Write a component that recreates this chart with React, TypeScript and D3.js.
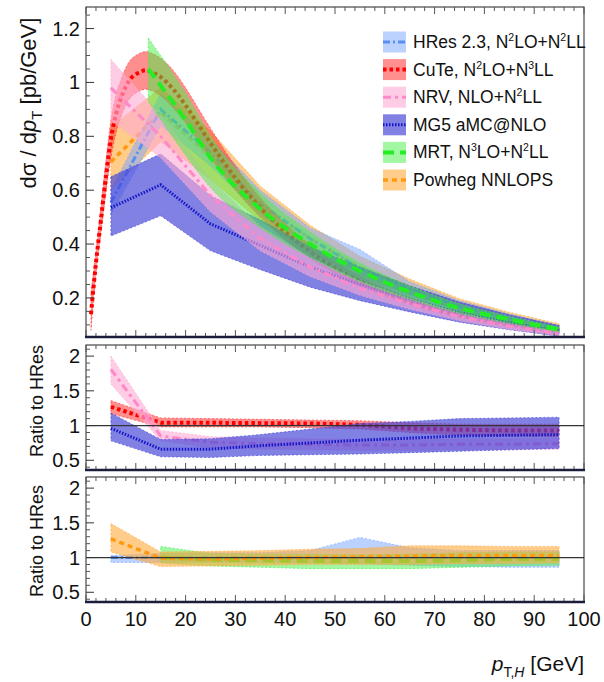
import React from 'react';
import * as d3 from 'd3';

// ---------- data ----------
const binPt = [5, 15, 25, 35, 45, 55, 65, 75, 85, 95];

const hresMid = [0.555, 0.9, 0.74, 0.55, 0.42, 0.31, 0.235, 0.17, 0.125, 0.088];
const hresLo = [0.51, 0.84, 0.69, 0.51, 0.39, 0.29, 0.215, 0.155, 0.112, 0.079];
const hresHi = [0.6, 0.96, 0.79, 0.6, 0.46, 0.38, 0.26, 0.19, 0.14, 0.098];

const cutePt = [1, 2, 3, 4, 5, 6, 7, 8, 9, 10, 11, 12, 13, 15, 17.5, 20, 22.5, 25, 30, 35, 40, 45, 50, 55, 60, 65, 70, 75, 80, 85, 90, 95];
const cuteMid = [0.14, 0.33, 0.49, 0.65, 0.79, 0.88, 0.94, 0.985, 1.015, 1.03, 1.04, 1.045, 1.04, 1.02, 0.975, 0.915, 0.845, 0.775, 0.645, 0.535, 0.445, 0.372, 0.312, 0.262, 0.222, 0.188, 0.16, 0.137, 0.118, 0.102, 0.088, 0.076];
const cuteLo = [0.08, 0.29, 0.44, 0.59, 0.72, 0.81, 0.87, 0.915, 0.945, 0.96, 0.97, 0.975, 0.97, 0.95, 0.905, 0.85, 0.785, 0.72, 0.6, 0.5, 0.415, 0.346, 0.29, 0.244, 0.206, 0.175, 0.149, 0.127, 0.11, 0.095, 0.082, 0.071];
const cuteHi = [0.22, 0.37, 0.54, 0.71, 0.86, 0.95, 1.01, 1.055, 1.085, 1.1, 1.11, 1.115, 1.11, 1.09, 1.045, 0.98, 0.905, 0.83, 0.69, 0.572, 0.476, 0.398, 0.334, 0.28, 0.238, 0.201, 0.171, 0.147, 0.126, 0.109, 0.094, 0.081];

const nrvMid = [0.98, 0.8, 0.58, 0.42, 0.315, 0.235, 0.178, 0.13, 0.095, 0.068];
const nrvLo = [0.86, 0.72, 0.52, 0.375, 0.28, 0.21, 0.158, 0.115, 0.084, 0.06];
const nrvHi = [1.085, 0.88, 0.64, 0.465, 0.35, 0.262, 0.198, 0.145, 0.106, 0.076];

const mg5Mid = [0.535, 0.62, 0.475, 0.395, 0.315, 0.25, 0.195, 0.145, 0.108, 0.077];
const mg5Lo = [0.43, 0.505, 0.375, 0.305, 0.24, 0.19, 0.148, 0.11, 0.082, 0.058];
const mg5Hi = [0.65, 0.735, 0.58, 0.49, 0.39, 0.315, 0.245, 0.185, 0.138, 0.098];

const mrtPt = [12.5, 20, 25, 35, 45, 55, 65, 75, 85, 95];
const mrtMid = [1.05, 0.86, 0.72, 0.53, 0.4, 0.3, 0.222, 0.162, 0.12, 0.083];
const mrtLo = [0.93, 0.73, 0.61, 0.46, 0.35, 0.26, 0.195, 0.143, 0.106, 0.074];
const mrtHi = [1.165, 0.96, 0.8, 0.59, 0.445, 0.33, 0.245, 0.178, 0.132, 0.092];

const powMid = [0.705, 0.89, 0.725, 0.545, 0.42, 0.313, 0.24, 0.175, 0.13, 0.092];
const powLo = [0.6, 0.78, 0.64, 0.485, 0.37, 0.278, 0.212, 0.153, 0.113, 0.08];
const powHi = [0.835, 0.98, 0.82, 0.615, 0.47, 0.355, 0.27, 0.197, 0.147, 0.104];

// ratios to HRes (middle panel)
const rCuteMid = [1.27, 1.04, 1.04, 1.035, 1.03, 1.01, 0.96, 0.94, 0.93, 0.93];
const rCuteLo = [1.17, 0.98, 0.98, 0.98, 0.97, 0.95, 0.9, 0.86, 0.85, 0.84];
const rCuteHi = [1.36, 1.11, 1.1, 1.09, 1.08, 1.07, 1.04, 1.02, 1.02, 1.02];

const rNrvMid = [1.81, 0.85, 0.76, 0.74, 0.73, 0.72, 0.72, 0.73, 0.73, 0.74];
const rNrvLo = [1.6, 0.78, 0.68, 0.66, 0.65, 0.64, 0.64, 0.65, 0.65, 0.66];
const rNrvHi = [2.0, 0.93, 0.84, 0.82, 0.81, 0.8, 0.8, 0.81, 0.81, 0.82];

const rMg5Mid = [0.96, 0.66, 0.66, 0.71, 0.75, 0.79, 0.82, 0.85, 0.86, 0.87];
const rMg5Lo = [0.78, 0.55, 0.54, 0.57, 0.58, 0.59, 0.61, 0.63, 0.65, 0.67];
const rMg5Hi = [1.18, 0.8, 0.81, 0.87, 0.95, 1.03, 1.06, 1.1, 1.11, 1.12];

// ratios to HRes (bottom panel)
const rHresMid = [1, 1, 1, 1, 1, 1, 1, 1, 1, 1];
const rHresLo = [0.93, 0.93, 0.93, 0.93, 0.92, 0.91, 0.89, 0.87, 0.86, 0.86];
const rHresHi = [1.03, 1.06, 1.07, 1.07, 1.1, 1.29, 1.14, 1.1, 1.1, 1.1];

const rMrtPt = [15, 25, 35, 45, 55, 65, 75, 85, 95];
const rMrtMid = [1.0, 0.97, 0.96, 0.95, 0.95, 0.95, 0.96, 0.98, 0.98];
const rMrtLo = [0.92, 0.88, 0.86, 0.84, 0.84, 0.84, 0.86, 0.88, 0.89];
const rMrtHi = [1.16, 1.06, 1.05, 1.05, 1.04, 1.05, 1.07, 1.08, 1.08];

const rPowMid = [1.27, 0.99, 0.98, 0.99, 1.0, 1.01, 1.02, 1.03, 1.03, 1.03];
const rPowLo = [1.08, 0.87, 0.88, 0.89, 0.9, 0.9, 0.9, 0.91, 0.91, 0.92];
const rPowHi = [1.49, 1.08, 1.09, 1.1, 1.12, 1.13, 1.17, 1.17, 1.16, 1.16];

const xTicks = [0, 10, 20, 30, 40, 50, 60, 70, 80, 90, 100];
const yMainTicks = [0.2, 0.4, 0.6, 0.8, 1, 1.2];
const yRatioTicks = [0.5, 1, 1.5, 2];

// ---------- styles ----------
const FONT = '"Liberation Sans", Arial, Helvetica, sans-serif';
type Sty = { fill: string; fo: number; stroke: string; sw: number; dash: string };
const S: Record<string, Sty> = {
  hres: { fill: 'rgb(120,165,255)', fo: 0.5, stroke: '#5b8ef5', sw: 3, dash: '7 3 2 3' },
  cute: { fill: 'rgb(255,60,60)', fo: 0.58, stroke: '#ff0000', sw: 4, dash: '3.5 3' },
  nrv: { fill: 'rgb(255,170,212)', fo: 0.6, stroke: '#ff88c8', sw: 3, dash: '8 4 3 4' },
  mg5: { fill: 'rgb(70,70,215)', fo: 0.68, stroke: '#1515c8', sw: 3, dash: '1.5 1.5' },
  mrt: { fill: 'rgb(70,240,70)', fo: 0.5, stroke: '#22ee22', sw: 4, dash: '11 6' },
  pow: { fill: 'rgb(255,170,60)', fo: 0.6, stroke: '#ff9a10', sw: 3.5, dash: '5 4' },
};

// ---------- layout ----------
const W = 604, H = 682;
const L = 86, R = 584;
const P0 = { t: 7, b: 337 };
const P1 = { t: 345, b: 470 };
const P2 = { t: 477, b: 602 };

const x = d3.scaleLinear().domain([0, 100]).range([L, R]);
const yMain = d3.scaleLinear().domain([0.055, 1.28]).range([P0.b, P0.t]);
const yR1 = d3.scaleLinear().domain([0.36, 2.16]).range([P1.b, P1.t]);
const yR2 = d3.scaleLinear().domain([0.36, 2.16]).range([P2.b, P2.t]);

function Band({ xs, lo, hi, mid, y, s, curve }: any) {
  const idx = xs.map((_: number, i: number) => i);
  const area = d3.area<number>().x((i) => x(xs[i])).y0((i) => y(lo[i])).y1((i) => y(hi[i])).curve(curve);
  const line = d3.line<number>().x((i) => x(xs[i])).y((i) => y(mid[i])).curve(curve);
  return (
    <g>
      <path d={area(idx) || ''} fill={s.fill} fillOpacity={s.fo} stroke={s.fill} strokeOpacity={0.8} strokeWidth={0.8} strokeDasharray="2 2" />
      <path d={line(idx) || ''} fill="none" stroke={s.stroke} strokeWidth={s.sw} strokeDasharray={s.dash} />
    </g>
  );
}

function Frame({ p, y, yt, minor, fmt }: any) {
  const xMinor = d3.range(0, 101, 2);
  return (
    <g>
      <rect x={L} y={p.t} width={R - L} height={p.b - p.t} fill="none" stroke="#222" strokeWidth={1} />
      {xMinor.map((v) => {
        const maj = v % 10 === 0;
        const len = maj ? 7 : 4;
        return (
          <g key={v} stroke="#555" strokeWidth={1}>
            <line x1={x(v)} x2={x(v)} y1={p.b} y2={p.b - len} />
            <line x1={x(v)} x2={x(v)} y1={p.t} y2={p.t + len} />
          </g>
        );
      })}
      {minor.map((v: number) => (
        <line key={'m' + v} x1={L} x2={L + 4} y1={y(v)} y2={y(v)} stroke="#555" strokeWidth={1} />
      ))}
      {yt.map((v: number) => (
        <g key={'t' + v}>
          <line x1={L} x2={L + 8} y1={y(v)} y2={y(v)} stroke="#333" strokeWidth={1} />
          <text x={L - 6} y={y(v) + 7} textAnchor="end" fontSize={20} fontFamily={FONT} fill="#111">{fmt(v)}</text>
        </g>
      ))}
      <line x1={L - 1} x2={R + 1} y1={p.b} y2={p.b} stroke="#1c1c3c" strokeWidth={2.5} />
    </g>
  );
}

const legendItems = [
  { key: 'hres', label: ['HRes 2.3, N', '2', 'LO+N', '2', 'LL'] },
  { key: 'cute', label: ['CuTe, N', '2', 'LO+N', '3', 'LL'] },
  { key: 'nrv', label: ['NRV, NLO+N', '2', 'LL'] },
  { key: 'mg5', label: ['MG5 aMC@NLO'] },
  { key: 'mrt', label: ['MRT, N', '3', 'LO+N', '2', 'LL'] },
  { key: 'pow', label: ['Powheg NNLOPS'] },
];

export default function App() {
  const lin = d3.curveLinear;
  const mono = d3.curveMonotoneX;
  const yMainMinor = d3.range(0.1, 1.26, 0.05).map((v) => +v.toFixed(2)).filter((v) => Math.abs(v * 5 - Math.round(v * 5)) > 1e-6);
  const yRMinor = d3.range(0.4, 2.16, 0.1).map((v) => +v.toFixed(2)).filter((v) => Math.abs(v * 2 - Math.round(v * 2)) > 1e-6);
  const fmtMain = (v: number) => (v === 1 ? '1' : d3.format('.1f')(v));
  const fmtR = (v: number) => (Number.isInteger(v) ? String(v) : d3.format('.1f')(v));

  return (
    <svg width={W} height={H} style={{ position: 'absolute', left: 0, top: 0, background: '#fff' }} fontFamily={FONT}>
      <defs>
        <clipPath id="c0"><rect x={L} y={P0.t} width={R - L} height={P0.b - P0.t} /></clipPath>
        <clipPath id="c1"><rect x={L} y={P1.t} width={R - L} height={P1.b - P1.t} /></clipPath>
        <clipPath id="c2"><rect x={L} y={P2.t} width={R - L} height={P2.b - P2.t} /></clipPath>
      </defs>

      {/* main panel */}
      <g clipPath="url(#c0)">
        <Band xs={binPt} lo={powLo} hi={powHi} mid={powMid} y={yMain} s={S.pow} curve={lin} />
        <Band xs={binPt} lo={hresLo} hi={hresHi} mid={hresMid} y={yMain} s={S.hres} curve={lin} />
        <Band xs={cutePt} lo={cuteLo} hi={cuteHi} mid={cuteMid} y={yMain} s={S.cute} curve={mono} />
        <Band xs={binPt} lo={mg5Lo} hi={mg5Hi} mid={mg5Mid} y={yMain} s={S.mg5} curve={lin} />
        <Band xs={binPt} lo={nrvLo} hi={nrvHi} mid={nrvMid} y={yMain} s={S.nrv} curve={lin} />
        <Band xs={mrtPt} lo={mrtLo} hi={mrtHi} mid={mrtMid} y={yMain} s={S.mrt} curve={mono} />
      </g>
      <Frame p={P0} y={yMain} yt={yMainTicks} minor={yMainMinor} fmt={fmtMain} />

      {/* legend */}
      {legendItems.map((it, i) => {
        const cy = 42 + i * 27.6;
        const s = S[it.key];
        return (
          <g key={it.key}>
            <rect x={383} y={cy - 10.5} width={23} height={21} fill={s.fill} fillOpacity={s.fo} />
            <line x1={383} x2={406} y1={cy} y2={cy} stroke={s.stroke} strokeWidth={s.sw} strokeDasharray={s.dash} />
            <text x={413} y={cy + 6} fontSize={17.5} fill="#111">
              {it.label.map((t, j) =>
                j % 2 === 1 ? (
                  <tspan key={j} fontSize={10.5} dy={-7}>{t}</tspan>
                ) : (
                  <tspan key={j} dy={j === 0 ? 0 : 7}>{t}</tspan>
                )
              )}
            </text>
          </g>
        );
      })}

      {/* middle ratio panel */}
      <g clipPath="url(#c1)">
        <Band xs={binPt} lo={rCuteLo} hi={rCuteHi} mid={rCuteMid} y={yR1} s={S.cute} curve={lin} />
        <Band xs={binPt} lo={rNrvLo} hi={rNrvHi} mid={rNrvMid} y={yR1} s={S.nrv} curve={lin} />
        <Band xs={binPt} lo={rMg5Lo} hi={rMg5Hi} mid={rMg5Mid} y={yR1} s={S.mg5} curve={lin} />
        <line x1={L} x2={R} y1={yR1(1)} y2={yR1(1)} stroke="#333" strokeWidth={1.2} />
      </g>
      <Frame p={P1} y={yR1} yt={yRatioTicks} minor={yRMinor} fmt={fmtR} />

      {/* bottom ratio panel */}
      <g clipPath="url(#c2)">
        <Band xs={binPt} lo={rHresLo} hi={rHresHi} mid={rHresMid} y={yR2} s={S.hres} curve={lin} />
        <Band xs={rMrtPt} lo={rMrtLo} hi={rMrtHi} mid={rMrtMid} y={yR2} s={S.mrt} curve={lin} />
        <Band xs={binPt} lo={rPowLo} hi={rPowHi} mid={rPowMid} y={yR2} s={S.pow} curve={lin} />
        <line x1={L} x2={R} y1={yR2(1)} y2={yR2(1)} stroke="#333" strokeWidth={1.2} />
      </g>
      <Frame p={P2} y={yR2} yt={yRatioTicks} minor={yRMinor} fmt={fmtR} />

      {/* x tick labels */}
      {xTicks.map((v) => (
        <text key={v} x={x(v)} y={626} textAnchor="middle" fontSize={20} fill="#111">{v}</text>
      ))}

      {/* axis titles */}
      <text x={R} y={671} textAnchor="end" fontSize={21} fill="#111">
        <tspan fontStyle="italic">p</tspan>
        <tspan fontSize={14} dy={6}>T,</tspan>
        <tspan fontSize={14} fontStyle="italic">H</tspan>
        <tspan dy={-6}> [GeV]</tspan>
      </text>
      <text transform="translate(36,103) rotate(-90)" textAnchor="middle" fontSize={22} fill="#111">
        dσ / d<tspan fontStyle="italic">p</tspan>
        <tspan fontSize={15} dy={6}>T</tspan>
        <tspan dy={-6}> [pb/GeV]</tspan>
      </text>
      <text transform="translate(43,401) rotate(-90)" textAnchor="middle" fontSize={18} fill="#111">Ratio to HRes</text>
      <text transform="translate(43,541) rotate(-90)" textAnchor="middle" fontSize={18} fill="#111">Ratio to HRes</text>
    </svg>
  );
}
